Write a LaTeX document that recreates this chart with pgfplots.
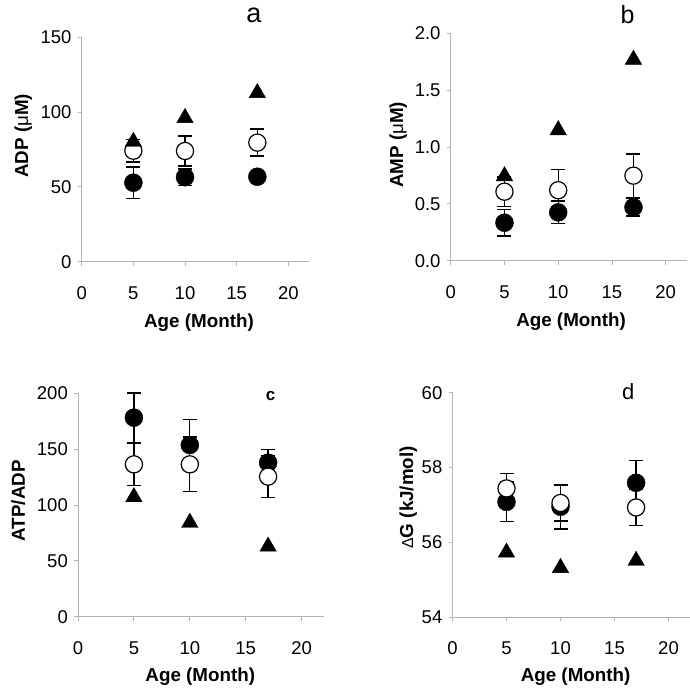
\documentclass[border=0pt]{standalone}
\usepackage{fontspec}
\setmainfont{Liberation Sans}
\usepackage{pgfplots}
\pgfplotsset{compat=1.18}
\definecolor{axgray}{rgb}{0.70,0.70,0.70}
\pgfplotsset{
  panel/.style={
    scale only axis, anchor=south west,
    axis x line*=bottom, axis y line*=left,
    axis line style={-, draw=axgray, line width=0.9pt},
    tick style={draw=axgray, line width=0.9pt},
    tick align=outside, major tick length=4pt,
    xmin=0, xmax=22, xtick={0,5,10,15,20},
    /pgf/number format/assume math mode=true,
    ticklabel style={font=\fontsize{18.5}{20}\selectfont, inner sep=0pt},
    xticklabel style={anchor=north, yshift=-20.5pt},
    yticklabel style={anchor=east, xshift=-6pt},
    label style={font=\bfseries\fontsize{18.8}{21}\selectfont},
    clip=false,
  },
  ebar/.style={draw=none, mark=none, forget plot,
    error bars/.cd, y dir=both, y explicit,
    error bar style={draw=black, line width=1.3pt},
    error mark options={draw=black, mark size=7pt, line width=1.3pt, rotate=90}},
  filled/.style={only marks, mark=*, mark size=9pt, draw=black, fill=black},
  open/.style={only marks, mark=*, mark size=8.6pt, mark options={draw=black, fill=white, line width=1.2pt}},
  tri/.style={only marks, mark=triangle*, mark size=9.5pt, mark options={draw=black, fill=black, yshift=-2.4pt}},
}
\newcommand{\micro}{{\mdseries μ}}
\begin{document}
\begin{tikzpicture}
\useasboundingbox (0,0) rectangle (689pt,692pt);
% ---------- a ----------
\begin{axis}[panel, at={(81.7pt,430.3pt)}, width=227.3pt, height=224.4pt,
  ymin=0, ymax=150, ytick={0,50,100,150},
  xlabel={Age (Month)}, xlabel style={at={(axis description cs:0.516,0)}, anchor=center, yshift=-61pt},
  ylabel={ADP (\micro M)}, ylabel style={at={(axis description cs:-0.257,0.561)}, anchor=center}]
\addplot[ebar] table[x=x,y=y,y error=e]{
x y e
5 52.8 10.5
10 56.5 5.5
17 56.8 3
};
\addplot[filled] table[x=x,y=y]{
x y
5 52.8
10 56.5
17 56.8
};
\addplot[ebar] table[x=x,y=y,y error=e]{
x y e
5 74.2 7.5
10 74 10
17 79.6 9
};
\addplot[open] table[x=x,y=y]{
x y
5 74.2
10 74
17 79.6
};
\addplot[tri] table[x=x,y=y]{
x y
5 81.8
10 97.7
17 114.4
};
\node[font=\fontsize{27}{30}\selectfont, inner sep=0pt] at (axis description cs:0.757,1.098) {a};
\end{axis}
% ---------- b ----------
\begin{axis}[panel, at={(450.7pt,431.3pt)}, width=236.5pt, height=227.4pt,
  ymin=0, ymax=2, ytick={0,0.5,1,1.5,2},
  yticklabel style={/pgf/number format/.cd, fixed, fixed zerofill, precision=1},
  xlabel={Age (Month)}, xlabel style={at={(axis description cs:0.509,0)}, anchor=center, yshift=-61pt},
  ylabel={AMP (\micro M)}, ylabel style={at={(axis description cs:-0.2216,0.509)}, anchor=center}]
\addplot[ebar] table[x=x,y=y,y error=e]{
x y e
5 0.334 0.117
10 0.425 0.10
17 0.47 0.078
};
\addplot[filled] table[x=x,y=y]{
x y
5 0.334
10 0.425
17 0.47
};
\addplot[ebar] table[x=x,y=y,y error=e]{
x y e
5 0.607 0.13
10 0.62 0.18
17 0.748 0.19
};
\addplot[open] table[x=x,y=y]{
x y
5 0.607
10 0.62
17 0.748
};
\addplot[tri] table[x=x,y=y]{
x y
5 0.765
10 1.17
17 1.79
};
\node[font=\fontsize{25}{28}\selectfont, inner sep=0pt] at (axis description cs:0.748,1.084) {b};
\end{axis}
% ---------- c ----------
\begin{axis}[panel, at={(78pt,75.3pt)}, width=246pt, height=223.4pt,
  ymin=0, ymax=200, ytick={0,50,100,150,200},
  xlabel={Age (Month)}, xlabel style={at={(axis description cs:0.497,0)}, anchor=center, yshift=-60pt},
  ylabel={ATP/ADP}, ylabel style={at={(axis description cs:-0.2427,0.519)}, anchor=center}]
\addplot[ebar] table[x=x,y=y,y error=e]{
x y e
5 178.2 22
10 153.7 23
17 137.9 12
};
\addplot[filled] table[x=x,y=y]{
x y
5 178.2
10 153.7
17 137.9
};
\addplot[ebar] table[x=x,y=y,y error=e]{
x y e
5 136.4 19
10 136.4 24.5
17 125.4 19
};
\addplot[open] table[x=x,y=y]{
x y
5 136.4
10 136.4
17 125.4
};
\addplot[tri] table[x=x,y=y]{
x y
5 109.3
10 86.3
17 65
};
\node[font=\bfseries\fontsize{17}{20}\selectfont, inner sep=0pt] at (axis description cs:0.7825,0.987) {c};
\end{axis}
% ---------- d ----------
\begin{axis}[panel, at={(452.5pt,75pt)}, width=237.6pt, height=224.3pt,
  ymin=54, ymax=60, ytick={54,56,58,60},
  xlabel={Age (Month)}, xlabel style={at={(axis description cs:0.518,0)}, anchor=center, yshift=-60pt},
  ylabel={{\mdseries\fontsize{16}{18}\selectfont Δ}G (kJ/mol)}, ylabel style={at={(axis description cs:-0.186,0.533)}, anchor=center}]
\addplot[ebar] table[x=x,y=y,y error=e]{
x y e
5 57.08 0.53
10 56.95 0.6
17 57.59 0.59
};
\addplot[filled] table[x=x,y=y]{
x y
5 57.08
10 56.95
17 57.59
};
\addplot[ebar] table[x=x,y=y,y error=e]{
x y e
5 57.44 0.4
10 57.05 0.48
17 56.93 0.49
};
\addplot[open] table[x=x,y=y]{
x y
5 57.44
10 57.05
17 56.93
};
\addplot[tri] table[x=x,y=y]{
x y
5 55.79
10 55.38
17 55.57
};
\node[font=\fontsize{22}{25}\selectfont, inner sep=0pt] at (axis description cs:0.74,1.006) {d};
\end{axis}
\end{tikzpicture}
\end{document}
